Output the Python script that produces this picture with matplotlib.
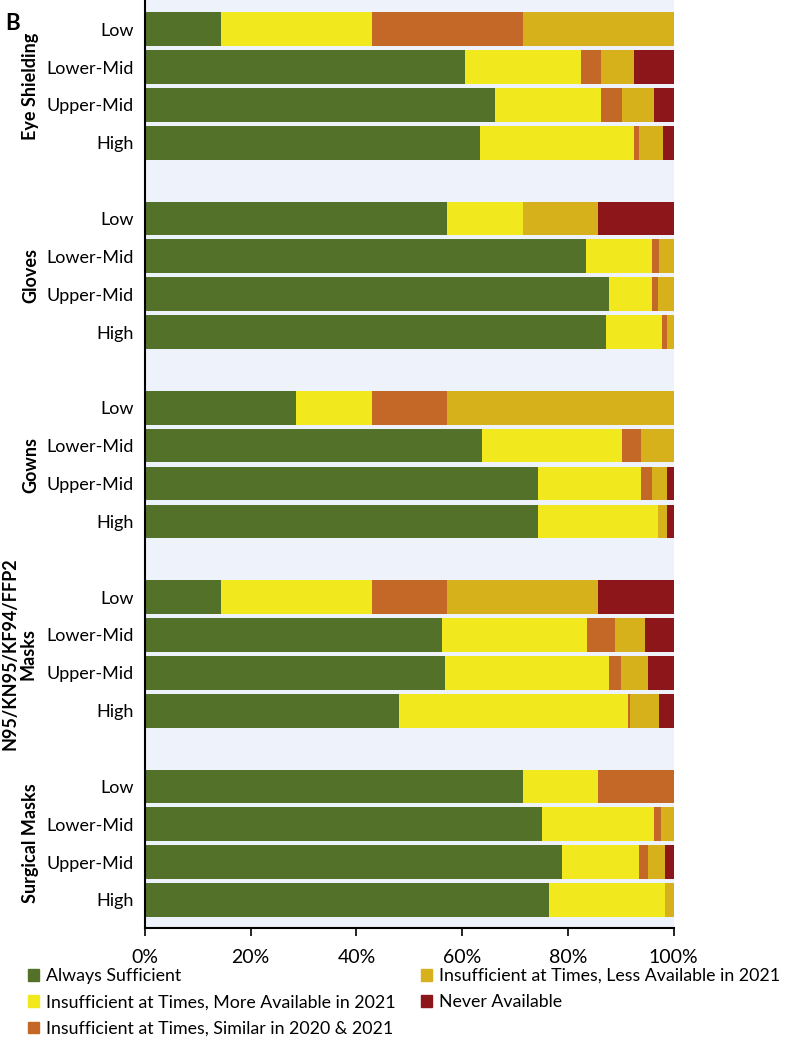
import matplotlib
matplotlib.use("Agg")
import matplotlib.pyplot as plt
import matplotlib.patches as mpatches
from matplotlib.transforms import blended_transform_factory

plt.rcParams['font.family'] = ['Lato', 'DejaVu Sans']

# groups of PPE and income levels (rows from top to bottom)
groups = ['Eye Shielding', 'Gloves', 'Gowns', 'N95/KN95/KF94/FFP2\nMasks', 'Surgical Masks']
levels = ['Low', 'Lower-Mid', 'Upper-Mid', 'High']

series_names = ['Always Sufficient',
                'Insufficient at Times, More Available in 2021',
                'Insufficient at Times, Similar in 2020 & 2021',
                'Insufficient at Times, Less Available in 2021',
                'Never Available']
series_colors = ['#537129', '#F1E91D', '#C46828', '#D7B11B', '#8D161A']

# percent values, 20 rows: 5 groups x 4 levels
always = [14.3, 60.5, 66.2, 63.4,
          57.1, 83.5, 87.7, 87.2,
          28.6, 63.8, 74.4, 74.4,
          14.3, 56.2, 56.7, 48.0,
          71.4, 75.1, 78.8, 76.5]
more_avail = [28.6, 21.9, 20.1, 29.1,
              14.3, 12.4, 8.2, 10.5,
              14.3, 26.4, 19.4, 22.6,
              28.6, 27.4, 31.0, 43.3,
              14.3, 21.1, 14.7, 21.9]
similar = [28.6, 3.9, 3.9, 1.0,
           0.0, 1.4, 1.2, 1.0,
           14.3, 3.7, 2.1, 0.0,
           14.3, 5.2, 2.3, 0.4,
           14.3, 1.3, 1.6, 0.0]
less_avail = [28.5, 6.2, 6.05, 4.5,
              14.3, 2.7, 2.9, 1.3,
              42.8, 6.1, 2.85, 1.7,
              28.5, 5.7, 5.1, 5.6,
              0.0, 2.5, 3.3, 1.6]
never = [0.0, 7.5, 3.75, 2.0,
         14.3, 0.0, 0.0, 0.0,
         0.0, 0.0, 1.25, 1.3,
         14.3, 5.5, 4.9, 2.7,
         0.0, 0.0, 1.6, 0.0]

all_series = [always, more_avail, similar, less_avail, never]

# y positions: 4 bars per group, one empty slot between groups
ypos = []
for g in range(len(groups)):
    for i in range(len(levels)):
        ypos.append(g * 5 + i)

fig = plt.figure(figsize=(7.88, 10.42), dpi=100)
ax = fig.add_axes([0.184, 0.1094, 0.671, 0.8906])
ax.set_facecolor('#EEF2FA')

left = [0.0] * len(ypos)
for vals, col in zip(all_series, series_colors):
    ax.barh(ypos, vals, left=left, height=0.89, color=col, edgecolor='none')
    left = [l + v for l, v in zip(left, vals)]

ax.set_xlim(0, 100)
ax.set_ylim(ypos[-1] + 0.74, -0.77)

ax.set_yticks(ypos, levels * len(groups), fontsize=13)
ax.tick_params(axis='y', length=0, pad=8)
ax.set_xticks([0, 20, 40, 60, 80, 100], ['0%', '20%', '40%', '60%', '80%', '100%'], fontsize=14)
ax.tick_params(axis='x', length=6, width=1.2, pad=9)

for s in ['top', 'right']:
    ax.spines[s].set_visible(False)
ax.spines['left'].set_linewidth(1.5)
ax.spines['bottom'].set_linewidth(1.5)

trans = blended_transform_factory(ax.transAxes, ax.transData)
for g, name in enumerate(groups):
    yc = g * 5 + 1.5
    xg = -0.238 if '\n' in name else -0.216
    ax.text(xg, yc, name, transform=trans, rotation=90, ha='center', va='center',
            fontsize=13, fontweight='bold', linespacing=1.1)

fig.text(0.007, 0.988, 'B', fontsize=16, fontweight='bold', ha='left', va='top')

handles = [mpatches.Patch(color=c, label=n) for c, n in zip(series_colors, series_names)]
fig.legend(handles=handles, ncol=2, loc='upper left', bbox_to_anchor=(0.035, 0.071),
           frameon=False, fontsize=12.8, handlelength=0.62, handleheight=0.62,
           handletextpad=0.4, columnspacing=1.46, labelspacing=0.58, borderaxespad=0,
           borderpad=0)

fig.savefig('out.png', dpi=100)
